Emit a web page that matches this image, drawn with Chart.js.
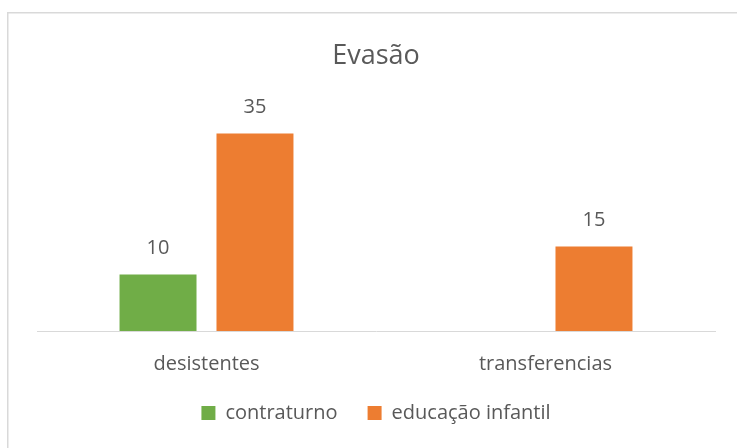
<!DOCTYPE html>
<html>
<head>
<meta charset="utf-8">
<script src="https://cdn.jsdelivr.net/npm/chart.js@4"></script>
<style>
    html, body { margin: 0; padding: 0; background: #fff; }
    #wrap { position: relative; width: 737px; height: 448px; }
</style>
</head>
<body>
<div id="wrap"><canvas id="chart"></canvas></div>
<script>
// Evasão - grouped bars
const categories = ['desistentes', 'transferencias'];
const contraturno = [10, null];
const educacaoInfantil = [35, 15];
const seriesNames = ['contraturno', 'educação infantil'];

const TEXT = '#595959';
const FONT = "'Open Sans', sans-serif";

// frame around the chart, like the spreadsheet's chart border
const framePlugin = {
    id: 'frame',
    beforeDraw(chart) {
        const ctx = chart.ctx;
        ctx.save();
        ctx.strokeStyle = '#d9d9d9';
        ctx.lineWidth = 1.5;
        ctx.strokeRect(7.75, 12.75, 800, 500);
        ctx.restore();
    }
};

// value labels above each bar + category names under the axis
const valueLabels = {
    id: 'valueLabels',
    afterDatasetsDraw(chart) {
        const ctx = chart.ctx;
        const xs = chart.scales.x;
        ctx.save();
        ctx.fillStyle = TEXT;
        ctx.font = `20px ${FONT}`;
        ctx.textAlign = 'center';
        ctx.textBaseline = 'middle';
        chart.data.datasets.forEach((ds, i) => {
            chart.getDatasetMeta(i).data.forEach((bar, j) => {
                const v = ds.data[j];
                if (v === null || v === undefined) return;
                ctx.fillText(String(v), bar.x, bar.y - 26);
            });
        });
        categories.forEach((c, j) => {
            ctx.fillText(c, xs.getPixelForValue(j), chart.chartArea.bottom + 33);
        });
        ctx.restore();
    }
};

new Chart(document.getElementById('chart'), {
    type: 'bar',
    data: {
        labels: categories,
        datasets: [
            {
                label: seriesNames[0],
                data: contraturno,
                backgroundColor: '#70ad47',
                barPercentage: 0.794,
                categoryPercentage: 0.572
            },
            {
                label: seriesNames[1],
                data: educacaoInfantil,
                backgroundColor: '#ed7d31',
                barPercentage: 0.794,
                categoryPercentage: 0.572
            }
        ]
    },
    options: {
        responsive: true,
        maintainAspectRatio: false,
        animation: false,
        layout: { padding: { left: 37, right: 22, top: 0, bottom: 15 } },
        scales: {
            x: {
                grid: { display: false, drawTicks: false },
                border: { color: '#d9d9d9', width: 1 },
                ticks: { display: false }
            },
            y: {
                display: false,
                min: 0,
                max: 40
            }
        },
        plugins: {
            title: {
                display: true,
                text: 'Evasão',
                color: TEXT,
                font: { family: FONT, size: 27, weight: 'normal' },
                padding: { top: 40, bottom: 33 }
            },
            legend: {
                position: 'bottom',
                title: { display: true, text: '', font: { size: 10 }, padding: { top: 30, bottom: 0 } },
                labels: {
                    color: TEXT,
                    font: { family: FONT, size: 20 },
                    boxWidth: 14,
                    boxHeight: 14,
                    padding: 30
                }
            },
            tooltip: { enabled: false }
        }
    },
    plugins: [framePlugin, valueLabels]
});
</script>
</body>
</html>
